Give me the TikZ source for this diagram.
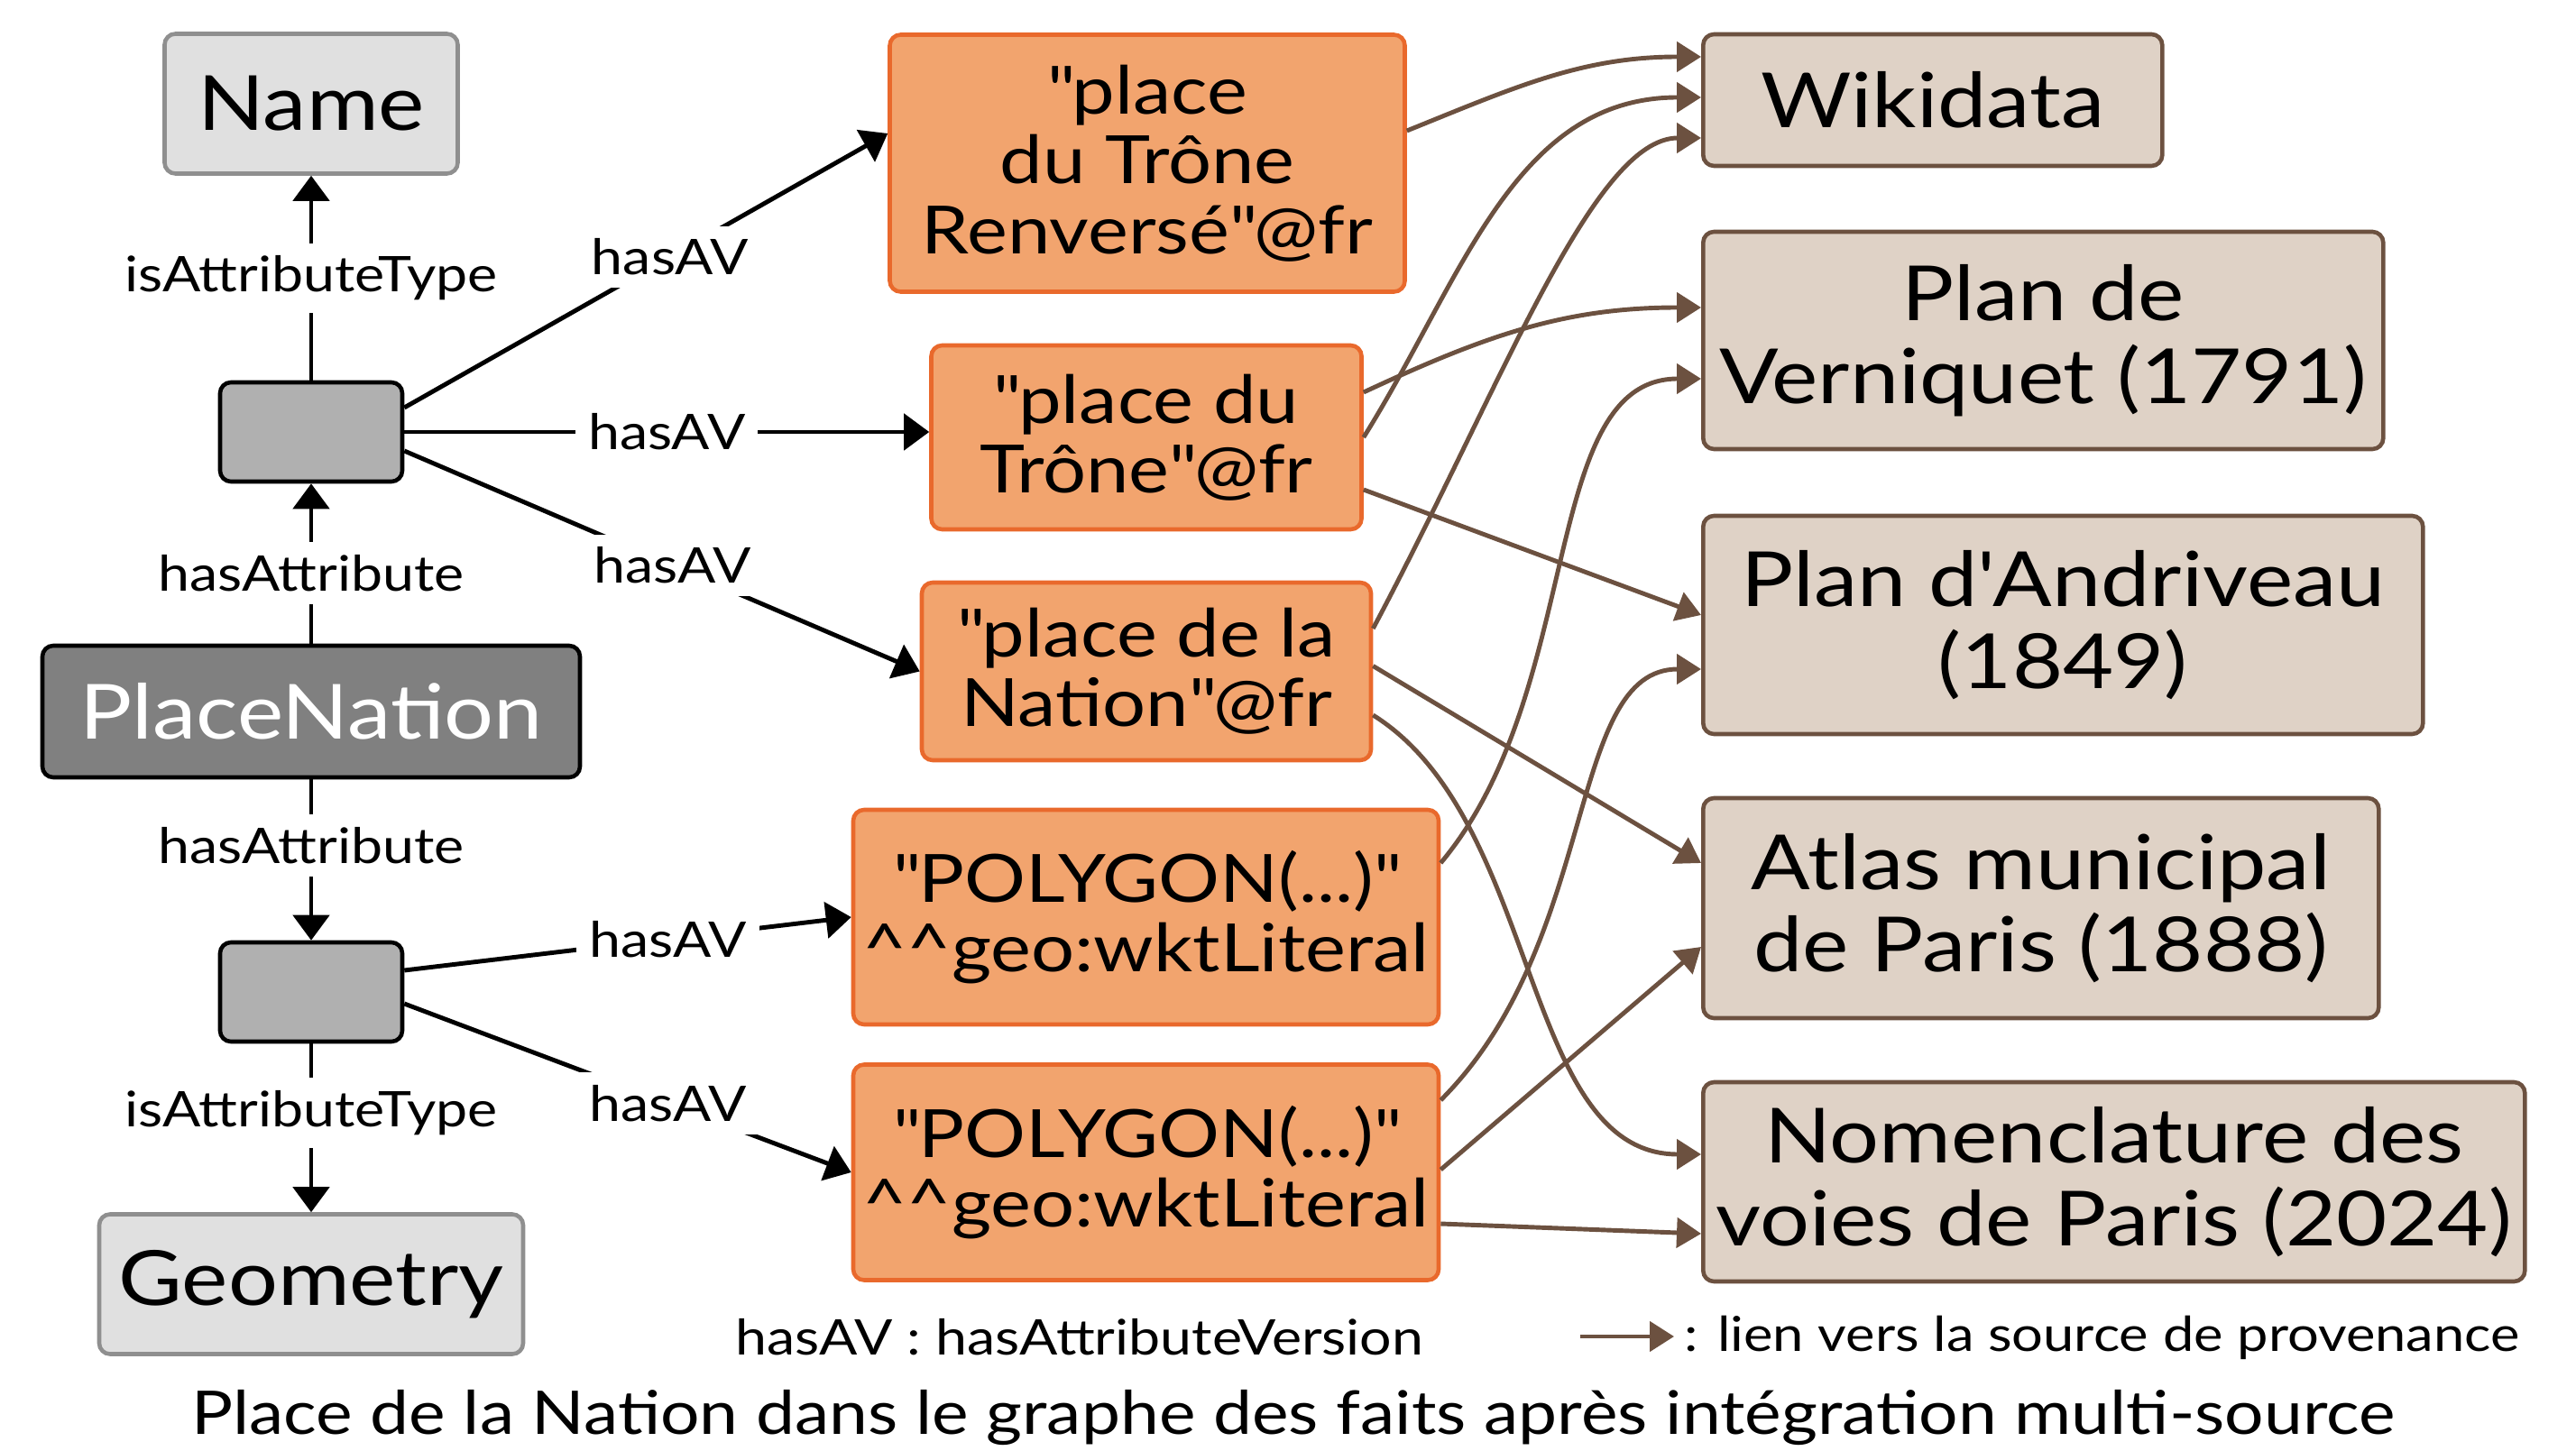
\documentclass[tikz,border=0pt]{standalone}
\usepackage{fontspec}
\setmainfont{Lato}[FakeStretch=1.15]
\usepackage{tikz}
\usetikzlibrary{arrows.meta}

\definecolor{typefill}{HTML}{E0E0E0}
\definecolor{typedraw}{HTML}{8F8F8F}
\definecolor{blankfill}{HTML}{B0B0B0}
\definecolor{classfill}{HTML}{808080}
\definecolor{litfill}{HTML}{F2A46E}
\definecolor{litdraw}{HTML}{E9692C}
\definecolor{srcfill}{HTML}{DFD2C6}
\definecolor{srcdraw}{HTML}{6C5140}

\newcommand{\q}{\textquotedbl}
\newcommand{\wkt}{\textasciicircum\textasciicircum geo:wktLiteral}

\begin{document}
\begin{tikzpicture}
  [box/.style={draw, rounded corners=1.2mm, line width=1.3pt, align=center, inner sep=0pt},
   typebox/.style={box, draw=typedraw, fill=typefill, font=\fontsize{24}{26}\selectfont},
   blank/.style={box, draw=black, fill=blankfill, minimum width=2.02cm, minimum height=1.1cm},
   classbox/.style={box, draw=black, fill=classfill, text=white, font=\fontsize{24}{26}\selectfont},
   lit/.style={box, draw=litdraw, fill=litfill, font=\fontsize{21}{22}\selectfont},
   src/.style={box, draw=srcdraw, fill=srcfill, anchor=west, font=\fontsize{24}{26}\selectfont},
   lbl/.style={fill=white, inner sep=1.4mm, font=\fontsize{15.5}{17}\selectfont},
   note/.style={inner sep=0pt, font=\fontsize{15.5}{17}\selectfont},
   rel/.style={-{Triangle[length=2.8mm,width=4mm]}, line width=1.4pt},
   prov/.style={-{Triangle[length=2.7mm,width=3.3mm]}, line width=1.4pt, draw=srcdraw}]
  \useasboundingbox (0,0) rectangle (28.56,-16.09);

  % nodes %
  \node[typebox, minimum width=3.25cm, minimum height=1.55cm] (name) at (3.45,-1.15) {Name};
  \node[blank] (b1) at (3.45,-4.79) {};
  \node[classbox, minimum width=5.96cm, minimum height=1.46cm] (place) at (3.45,-7.89) {PlaceNation};
  \node[blank] (b2) at (3.45,-11.00) {};
  \node[typebox, minimum width=4.70cm, minimum height=1.55cm] (geom) at (3.45,-14.24) {Geometry};

  \node[lit, minimum width=5.71cm, minimum height=2.85cm] (trenv) at (12.72,-1.81) {\q place\\du Trône\\Renversé\q @fr};
  \node[lit, minimum width=4.77cm, minimum height=2.04cm] (trone) at (12.71,-4.85) {\q place du\\Trône\q @fr};
  \node[lit, minimum width=4.98cm, minimum height=1.97cm] (nation) at (12.71,-7.445) {\q place de la\\Nation\q @fr};
  \node[lit, minimum width=6.49cm, minimum height=2.38cm] (geoa) at (12.705,-10.17) {\q POLYGON(...)\q\\\wkt};
  \node[lit, minimum width=6.49cm, minimum height=2.39cm] (geob) at (12.705,-13.00) {\q POLYGON(...)\q\\\wkt};

  \node[src, minimum width=5.09cm, minimum height=1.46cm] (wiki) at (18.86,-1.11) {Wikidata};
  \node[src, minimum width=7.54cm, minimum height=2.41cm] (vern) at (18.86,-3.775) {Plan de\\Verniquet (1791)};
  \node[src, minimum width=7.98cm, minimum height=2.42cm] (andr) at (18.86,-6.93) {Plan d\textquotesingle Andriveau\\(1849)};
  \node[src, minimum width=7.49cm, minimum height=2.44cm] (atlas) at (18.86,-10.07) {Atlas municipal\\de Paris (1888)};
  \node[src, minimum width=9.11cm, minimum height=2.21cm] (nomen) at (18.86,-13.105) {Nomenclature des\\voies de Paris (2024)};

  % edges %
  \draw[rel] (b1) -- node[lbl] {isAttributeType} (name);
  \draw[rel] (place) -- node[lbl, pos=0.44] {hasAttribute} (b1);
  \draw[rel] (place) -- node[lbl, pos=0.41] {hasAttribute} (b2);
  \draw[rel] (b2) -- node[lbl, pos=0.41] {isAttributeType} (geom);

  \draw[rel] ([yshift=2.7mm]b1.east) -- node[lbl, pos=0.55] {hasAV} ([yshift=3.3mm]trenv.west);
  \draw[rel] (b1.east) -- node[lbl, pos=0.5] {hasAV} (b1.east -| trone.west);
  \draw[rel] ([yshift=-2.1mm]b1.east) -- node[lbl, pos=0.52] {hasAV} (nation.west);
  \draw[rel] ([yshift=2.4mm]b2.east) -- node[lbl, pos=0.59] {hasAV} (geoa.west);
  \draw[rel] ([yshift=-1.3mm]b2.east) -- node[lbl, pos=0.59] {hasAV} (geob.west);

  % provenance %
  \draw[prov] ([yshift=3.6mm]trenv.east) to[out=22, in=180] ([yshift=4.8mm]wiki.west);
  \draw[prov] ([yshift=5mm]trone.east) to[out=25, in=180] ([yshift=3.65mm]vern.west);
  \draw[prov] (trone.east) to[out=58, in=180] ([yshift=0.3mm]wiki.west);
  \draw[prov] ([yshift=-5.8mm]trone.east) -- ([yshift=1.1mm]andr.west);
  \draw[prov] ([yshift=4.75mm]nation.east) to[out=62, in=180, out distance=3cm, in distance=1.2cm] ([yshift=-4.2mm]wiki.west);
  \draw[prov] ([yshift=0.6mm]nation.east) -- ([yshift=5mm]atlas.west);
  \draw[prov] ([yshift=-4.85mm]nation.east) to[out=-32, in=180, out distance=2.2cm, in distance=2cm] ([yshift=3.05mm]nomen.west);
  \draw[prov] ([yshift=6mm]geoa.east) to[out=50, in=180, out distance=2.5cm, in distance=1.8cm] ([yshift=-4.25mm]vern.west);
  \draw[prov] ([yshift=8mm]geob.east) to[out=45, in=180, out distance=2.5cm, in distance=1.5cm] ([yshift=-4.9mm]andr.west);
  \draw[prov] ([yshift=0.3mm]geob.east) -- ([yshift=-4.3mm]atlas.west);
  \draw[prov] ([yshift=-5.7mm]geob.east) -- ([yshift=-5.75mm]nomen.west);

  % legend %
  \node[note, anchor=base] (avnote) at (11.97,-15.02) {hasAV : hasAttributeVersion};
  \coordinate (leg1) at (17.52,-14.82);
  \coordinate (leg2) at (18.56,-14.82);
  \draw[prov] (leg1) -- (leg2);
  \node[note, anchor=base west, font=\fontsize{15.2}{17}\selectfont] (provnote) at (18.67,-14.98) {: lien vers la source de provenance};
  \node[inner sep=0pt, anchor=base, font=\fontsize{19}{21}\selectfont] (caption) at (14.34,-15.90)
    {Place de la Nation dans le graphe des faits après intégration multi-source};
\end{tikzpicture}
\end{document}
